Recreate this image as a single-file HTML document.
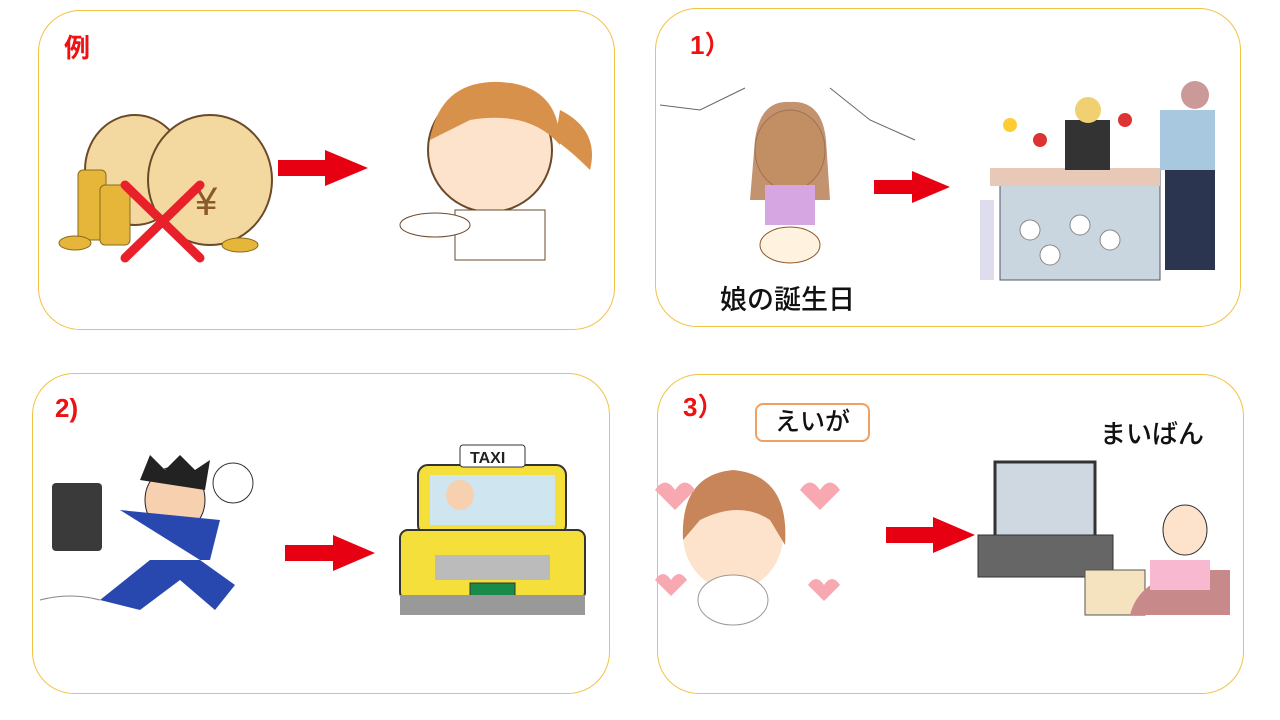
<!DOCTYPE html>
<html><head><meta charset="utf-8"><style>
body{margin:0;width:1280px;height:720px;background:#fff;position:relative;overflow:hidden;font-family:"Liberation Sans","Noto Sans CJK JP",sans-serif}
.p{position:absolute;border:1.5px solid #f2c244;border-radius:42px;box-sizing:border-box}
.l{position:absolute;color:#ee1111;font-size:26px;font-weight:bold}
.t{position:absolute;color:#111;font-size:27px;font-weight:500}
.a{position:absolute}
.r{position:absolute}
</style></head><body>
<div class="p" style="left:38px;top:10px;width:577px;height:320px"></div>
<div class="p" style="left:655px;top:8px;width:586px;height:319px"></div>
<div class="p" style="left:32px;top:373px;width:578px;height:321px"></div>
<div class="p" style="left:657px;top:374px;width:587px;height:320px"></div>

<div class="l" style="left:64px;top:28px">例</div>
<div class="l" style="left:690px;top:25px">1）</div>
<div class="l" style="left:55px;top:393px">2)</div>
<div class="l" style="left:683px;top:387px">3）</div>

<svg class="a" width="1280" height="720" style="left:0;top:0">
<g fill="#e60012">
<rect x="278" y="160" width="50" height="16"/><polygon points="325,150 368,168 325,186"/>
<rect x="874" y="180" width="40" height="14"/><polygon points="912,171 950,187 912,203"/>
<rect x="285" y="545" width="50" height="16"/><polygon points="333,535 375,553 333,571"/>
<rect x="886" y="527" width="50" height="16"/><polygon points="933,517 975,535 933,553"/>
</g>
<ellipse cx="135" cy="170" rx="50" ry="55" fill="#f3d9a0" stroke="#6b4a2a" stroke-width="2"/>
<ellipse cx="210" cy="180" rx="62" ry="65" fill="#f3d9a0" stroke="#6b4a2a" stroke-width="2"/>
<g fill="#e6b63a" stroke="#8a6a1a"><rect x="78" y="170" width="28" height="70" rx="5"/><rect x="100" y="185" width="30" height="60" rx="5"/><ellipse cx="75" cy="243" rx="16" ry="7"/><ellipse cx="240" cy="245" rx="18" ry="7"/></g>
<text x="195" y="215" font-size="40" fill="#8a5a2a" font-family="Liberation Sans">¥</text>
<g stroke="#e8202a" stroke-width="9" stroke-linecap="round"><line x1="125" y1="185" x2="200" y2="258"/><line x1="200" y1="185" x2="125" y2="258"/></g>
<ellipse cx="490" cy="150" rx="62" ry="62" fill="#fde3cc" stroke="#6b4a2a" stroke-width="2"/>
<path d="M430 140 Q440 80 500 82 Q560 85 560 145 Q530 110 470 120 Z" fill="#d8914a"/>
<path d="M560 110 Q600 130 590 170 Q570 150 555 140Z" fill="#d8914a"/>
<rect x="455" y="210" width="90" height="50" fill="#fff" stroke="#6b4a2a"/>
<ellipse cx="435" cy="225" rx="35" ry="12" fill="#fff" stroke="#6b4a2a"/>
<ellipse cx="790" cy="150" rx="35" ry="40" fill="#fde3cc" stroke="#555"/>
<path d="M755 140 Q760 100 790 102 Q822 100 826 140 L830 200 L750 200Z" fill="#b3784a" opacity=".8"/>
<rect x="765" y="185" width="50" height="40" fill="#d6a6e2"/>
<ellipse cx="790" cy="245" rx="30" ry="18" fill="#fff3e0" stroke="#8a5a2a"/>
<polyline points="660,105 700,110 745,88" fill="none" stroke="#666"/><polyline points="830,88 870,120 915,140" fill="none" stroke="#666"/>
<rect x="1000" y="170" width="160" height="110" fill="#c9d6df" stroke="#556"/>
<rect x="990" y="168" width="170" height="18" fill="#e8c9b8"/>
<g fill="#fff" stroke="#888"><circle cx="1030" cy="230" r="10"/><circle cx="1080" cy="225" r="10"/><circle cx="1110" cy="240" r="10"/><circle cx="1050" cy="255" r="10"/></g>
<rect x="1160" y="110" width="55" height="60" fill="#a8c8e0"/>
<rect x="1165" y="170" width="50" height="100" fill="#2c3550"/>
<circle cx="1195" cy="95" r="14" fill="#c99"/>
<rect x="1065" y="120" width="45" height="50" fill="#333"/>
<circle cx="1088" cy="110" r="13" fill="#f0d070"/>
<rect x="980" y="200" width="14" height="80" fill="#dde"/>
<g fill="#d33"><circle cx="1040" cy="140" r="7"/><circle cx="1125" cy="120" r="7"/><circle cx="1010" cy="125" r="7" fill="#fc3"/></g>
<rect x="52" y="483" width="50" height="68" rx="4" fill="#3a3a3a"/>
<ellipse cx="175" cy="500" rx="30" ry="33" fill="#f7d0b0" stroke="#222"/>
<path d="M140 480 L150 455 L165 470 L180 455 L195 470 L210 460 L205 490Z" fill="#222"/>
<path d="M120 510 L220 520 L210 560 L150 560 L100 600 L140 610 L180 580 L215 610 L235 585 L200 560Z" fill="#2848b0"/>
<circle cx="233" cy="483" r="20" fill="#fff" stroke="#333"/>
<path d="M40 600 Q70 592 100 600" stroke="#888" fill="none"/>
<rect x="418" y="465" width="148" height="70" rx="10" fill="#f5df3a" stroke="#333" stroke-width="2"/>
<rect x="430" y="475" width="125" height="50" fill="#cfe6f0"/>
<rect x="460" y="445" width="65" height="22" rx="3" fill="#fff" stroke="#333"/>
<text x="470" y="463" font-size="16" font-weight="bold" fill="#222" font-family="Liberation Sans">TAXI</text>
<rect x="400" y="530" width="185" height="70" rx="8" fill="#f5df3a" stroke="#333" stroke-width="2"/>
<rect x="435" y="555" width="115" height="25" fill="#bbb"/>
<rect x="470" y="583" width="45" height="22" fill="#1a8a4a" stroke="#333"/>
<rect x="400" y="595" width="185" height="20" fill="#999"/>
<ellipse cx="460" cy="495" rx="14" ry="15" fill="#f7d0b0"/>
<ellipse cx="733" cy="535" rx="50" ry="55" fill="#fde3cc"/>
<path d="M683 540 Q680 475 733 470 Q790 475 785 545 L770 520 Q740 500 700 520Z" fill="#c9855a"/>
<ellipse cx="733" cy="600" rx="35" ry="25" fill="#fff" stroke="#999"/>
<g fill="#f7a8b0"><path d="M655 490 q10 -15 20 0 q10 -15 20 0 l-20 20z"/><path d="M800 490 q10 -15 20 0 q10 -15 20 0 l-20 20z"/><path d="M655 580 q8 -12 16 0 q8 -12 16 0 l-16 16z"/><path d="M808 585 q8 -12 16 0 q8 -12 16 0 l-16 16z"/></g>
<rect x="995" y="462" width="100" height="80" fill="#cfd8e0" stroke="#333" stroke-width="3"/>
<rect x="978" y="535" width="135" height="42" fill="#666" stroke="#333"/>
<rect x="1085" y="570" width="60" height="45" fill="#f5e3c0" stroke="#555"/>
<path d="M1130 615 Q1140 575 1200 570 L1230 570 L1230 615Z" fill="#c8898a"/>
<ellipse cx="1185" cy="530" rx="22" ry="25" fill="#fde3cc" stroke="#333"/>
<rect x="1150" y="560" width="60" height="30" fill="#f7b8d0"/>
</svg>

<div class="t" style="left:720px;top:278px">娘の誕生日</div>
<div class="r" style="left:755px;top:403px;width:115px;height:39px;border:2px solid #f0a060;border-radius:8px;box-sizing:border-box;font-size:25px;text-align:center;line-height:35px;color:#111;font-weight:500">えいが</div>
<div class="t" style="left:1100px;top:414px;font-size:26px">まいばん</div>
</body></html>
